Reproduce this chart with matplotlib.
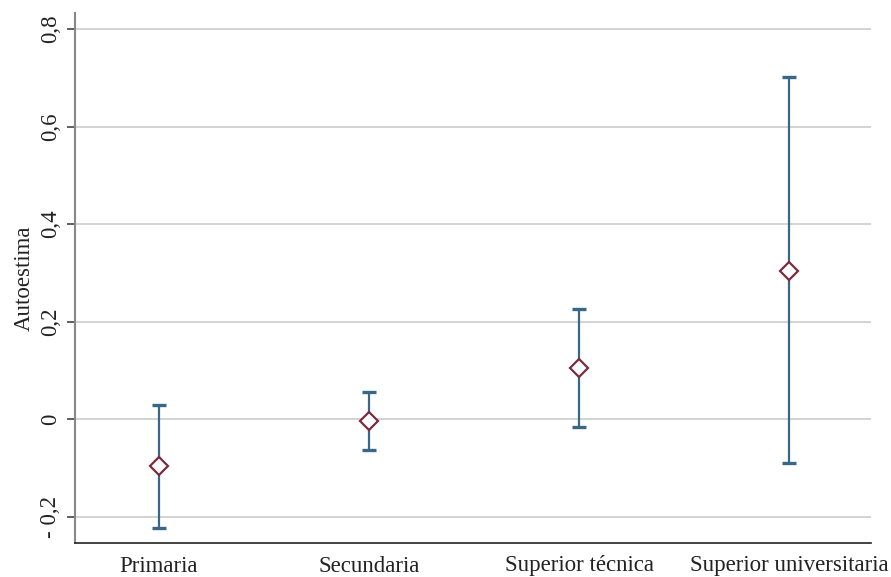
import matplotlib
matplotlib.use("Agg")
import matplotlib.pyplot as plt
import numpy as np

plt.rcParams['font.family'] = ['Liberation Serif', 'DejaVu Serif']

categories = ['Primaria', 'Secundaria', 'Superior técnica', 'Superior universitaria']
estimate = [-0.096, -0.004, 0.105, 0.304]
ci_low = [-0.224, -0.064, -0.016, -0.090]
ci_high = [0.029, 0.055, 0.226, 0.702]

yticks = [-0.2, 0, 0.2, 0.4, 0.6, 0.8]
ytick_labels = ['- 0,2', '0', '0,2', '0,4', '0,6', '0,8']

bar_color = '#3a6786'
marker_color = '#7b2b3e'

fig = plt.figure(figsize=(8.91, 5.77), dpi=100)
ax = fig.add_axes([75/891, 34/577, 796/891, 530/577])

x = np.arange(1, len(categories) + 1)
est = np.array(estimate)
lo = est - np.array(ci_low)
hi = np.array(ci_high) - est

ax.errorbar(x, est, yerr=[lo, hi], fmt='none', ecolor=bar_color,
            elinewidth=1.6, capsize=5, capthick=2.4, zorder=3)
ax.plot(x, est, 'D', mfc='white', mec=marker_color, mew=1.6, ms=9, zorder=4)

ax.set_xlim(0.6, 4.39)
ax.set_ylim(-0.254, 0.833)
ax.set_xticks(x)
ax.set_xticklabels(categories, fontsize=16.5, color='#222222')
ax.tick_params(axis='x', length=0, pad=9)
ax.set_yticks(yticks)
ax.set_yticklabels(ytick_labels, rotation=90, va='center', fontsize=16.5, color='#222222')
ax.tick_params(axis='y', length=6, width=1.2, color='#444444', pad=4)

ax.yaxis.grid(True, color='#cccccc', linewidth=1.2)
ax.set_axisbelow(True)
for s in ['top', 'right']:
    ax.spines[s].set_visible(False)
ax.spines['left'].set_color('#888888')
ax.spines['left'].set_linewidth(1.5)
ax.spines['bottom'].set_color('#222222')
ax.spines['bottom'].set_linewidth(1.2)

ax.set_ylabel('Autoestima', fontsize=16.5, color='#222222', labelpad=4)

fig.savefig('out.png', dpi=100)
